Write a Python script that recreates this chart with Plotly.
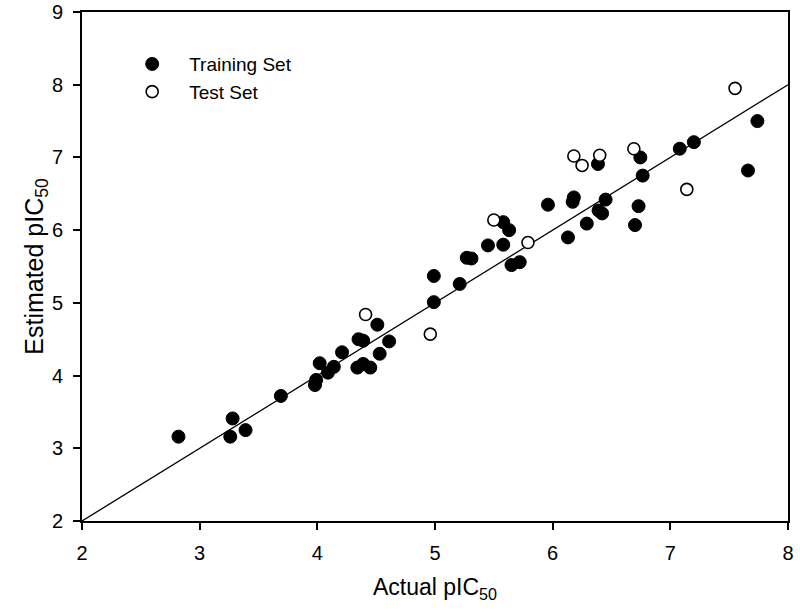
import plotly.graph_objects as go

train_actual = [2.82, 3.28, 3.26, 3.39, 3.69, 3.98, 3.99, 4.02, 4.09, 4.14, 4.21, 4.35, 4.39,
                4.34, 4.39, 4.45, 4.53, 4.51, 4.61, 4.99, 4.99, 5.21, 5.27, 5.31, 5.45, 5.58,
                5.58, 5.63, 5.65, 5.72, 5.96, 6.13, 6.17, 6.18, 6.29, 6.39, 6.42, 6.45, 6.385,
                6.70, 6.73, 6.745, 6.765, 7.08, 7.20, 7.66, 7.74]
train_est = [3.16, 3.41, 3.16, 3.25, 3.72, 3.87, 3.94, 4.17, 4.04, 4.12, 4.32, 4.50, 4.48,
             4.11, 4.16, 4.11, 4.30, 4.70, 4.47, 5.37, 5.01, 5.26, 5.62, 5.61, 5.79, 5.80,
             6.11, 6.00, 5.52, 5.56, 6.35, 5.90, 6.39, 6.45, 6.09, 6.27, 6.23, 6.42, 6.91,
             6.07, 6.33, 7.00, 6.75, 7.12, 7.21, 6.82, 7.50]

test_actual = [4.41, 4.96, 5.50, 5.79, 6.18, 6.25, 6.40, 6.69, 7.14, 7.55]
test_est = [4.84, 4.57, 6.14, 5.83, 7.02, 6.89, 7.03, 7.12, 6.56, 7.95]

line_x = [2, 8]
line_y = [2, 8]

x_ticks = [2, 3, 4, 5, 6, 7, 8]
y_ticks = [2, 3, 4, 5, 6, 7, 8, 9]

FONT = "Liberation Sans, Arial"

fig = go.Figure()
fig.add_trace(go.Scatter(x=line_x, y=line_y, mode="lines",
                         line=dict(color="black", width=1.3), showlegend=False, hoverinfo="skip"))
fig.add_trace(go.Scatter(x=train_actual, y=train_est, mode="markers", name="Training Set",
                         marker=dict(symbol="circle", size=13, color="black",
                                     line=dict(color="black", width=1))))
fig.add_trace(go.Scatter(x=test_actual, y=test_est, mode="markers", name="Test Set",
                         marker=dict(symbol="circle", size=12, color="white",
                                     line=dict(color="black", width=1.6))))

axis_common = dict(showgrid=False, zeroline=False, showline=True, linecolor="black",
                   linewidth=2, mirror=True, ticks="outside", ticklen=7, tickwidth=1.5,
                   tickcolor="black", ticklabelstandoff=6, automargin=False,
                   tickfont=dict(family=FONT, size=20, color="black"))

fig.update_xaxes(range=[2, 8], tickvals=x_ticks,
                 title=dict(text="Actual pIC<sub>50</sub>", font=dict(family=FONT, size=23, color="black"),
                            standoff=16),
                 **axis_common)
fig.update_yaxes(range=[2, 9], tickvals=y_ticks,
                 title=dict(text="Estimated pIC<sub>50</sub>", font=dict(family=FONT, size=25, color="black"),
                            standoff=0),
                 **axis_common)

fig.update_layout(
    width=800, height=615,
    margin=dict(l=82, r=12, t=12, b=94, autoexpand=False),
    plot_bgcolor="white", paper_bgcolor="white",
    legend=dict(x=0.047, y=0.935, xanchor="left", yanchor="top", bgcolor="rgba(0,0,0,0)",
                font=dict(family=FONT, size=19, color="black"),
                itemwidth=64, tracegroupgap=0),
    font=dict(family=FONT, color="black"),
)

fig.write_html("out.html", config={"displayModeBar": False},
               post_script="document.body.style.margin='0';")
